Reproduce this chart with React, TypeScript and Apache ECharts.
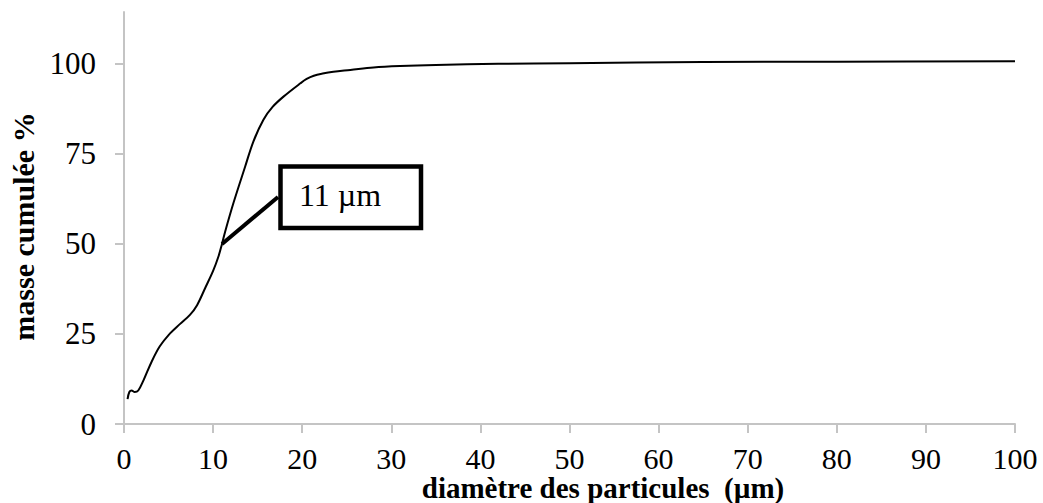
import React, { useEffect, useRef } from "react";
import * as echarts from "echarts";

// Cumulative particle size distribution (diameter in µm, cumulative mass in %)
const diameters = [
  0.4, 0.6, 0.86, 1.2, 1.6, 2.2, 3.1, 4.0, 5.0, 6.3, 7.4, 8.2, 9.1, 10.0, 10.6,
  11.0, 11.35, 12.3, 13.6, 14.53, 15.65, 16.7, 17.9, 19.8, 20.5, 21.3, 22.3,
  23.5, 25.4, 28, 31, 35, 42, 50, 65, 80, 100,
];
const cumulativeMass = [
  6.9, 8.9, 9.3, 8.9, 9.3, 12.2, 17.3, 21.5, 24.7, 27.8, 30.3, 33, 37.7, 42.5,
  46.5, 50, 53.4, 61.5, 71.5, 78.5, 84.5, 88.1, 90.9, 94.6, 95.8, 96.7, 97.3,
  97.8, 98.3, 99, 99.4, 99.7, 100, 100.2, 100.5, 100.6, 100.7,
];
const xTicks = [0, 10, 20, 30, 40, 50, 60, 70, 80, 90, 100];
const yTicks = [0, 25, 50, 75, 100];

// Median diameter (d50) called out on the curve
const d50 = 11;
const d50Mass = 50;
const d50Label = "11 µm";

const xTitle = "diamètre des particules  (µm)";
const yTitle = "masse cumulée %";

const FONT = "'Liberation Serif', 'Times New Roman', serif";
const AXIS_GREY = "#c4c4c4";

export default function App() {
  const ref = useRef<HTMLDivElement>(null);

  useEffect(() => {
    if (!ref.current) return;
    const chart = echarts.init(ref.current, undefined, { renderer: "svg" });
    const points = diameters.map((d, i) => [d, cumulativeMass[i]]);

    chart.setOption({
      animation: false,
      backgroundColor: "#ffffff",
      grid: { left: 124, right: 28, top: 12, bottom: 79, containLabel: false },
      xAxis: {
        type: "value",
        min: 0,
        max: 100,
        interval: 10,
        axisLine: { show: true, lineStyle: { color: AXIS_GREY, width: 2 } },
        axisTick: {
          show: true,
          length: 9,
          inside: false,
          customValues: xTicks,
          lineStyle: { color: AXIS_GREY, width: 2 },
        },
        axisLabel: {
          customValues: xTicks,
          margin: 22,
          lineHeight: 24,
          fontFamily: FONT,
          fontSize: 30,
          color: "#000",
        },
        splitLine: { show: false },
      },
      yAxis: {
        type: "value",
        min: 0,
        max: 114.4,
        axisLine: { show: true, lineStyle: { color: AXIS_GREY, width: 2 } },
        axisTick: {
          show: true,
          length: 9,
          inside: false,
          customValues: yTicks,
          lineStyle: { color: AXIS_GREY, width: 2 },
        },
        axisLabel: {
          customValues: yTicks,
          margin: 28,
          fontFamily: FONT,
          fontSize: 31,
          color: "#000",
        },
        splitLine: { show: false },
      },
      series: [
        {
          type: "line",
          data: points,
          smooth: 0.35,
          showSymbol: false,
          symbol: "none",
          lineStyle: { color: "#000", width: 2 },
          markLine: {
            silent: true,
            symbol: ["none", "none"],
            label: { show: false },
            lineStyle: { color: "#000", width: 4, type: "solid" },
            data: [[{ coord: [d50, d50Mass] }, { x: 278, y: 197 }]],
          },
        },
      ],
      graphic: [
        {
          type: "rect",
          shape: { x: 280.5, y: 166.5, width: 140.5, height: 61.5 },
          style: { fill: "#fff", stroke: "#000", lineWidth: 4.5 },
          z: 10,
        },
        {
          type: "text",
          x: 340,
          y: 195,
          style: {
            text: d50Label,
            font: `32px ${FONT}`,
            fill: "#000",
            align: "center",
            verticalAlign: "middle",
          },
          z: 11,
        },
        {
          type: "text",
          x: 603,
          y: 488,
          style: {
            text: xTitle,
            font: `bold 29px ${FONT}`,
            lineHeight: 24,
            fill: "#000",
            align: "center",
            verticalAlign: "middle",
          },
        },
        {
          type: "text",
          x: 23.5,
          y: 226.5,
          rotation: Math.PI / 2,
          style: {
            text: yTitle,
            font: `bold 30px ${FONT}`,
            fill: "#000",
            align: "center",
            verticalAlign: "middle",
          },
        },
      ],
    });

    return () => chart.dispose();
  }, []);

  return (
    <div
      ref={ref}
      style={{ position: "fixed", left: 0, top: 0, width: 1043, height: 503 }}
    />
  );
}
